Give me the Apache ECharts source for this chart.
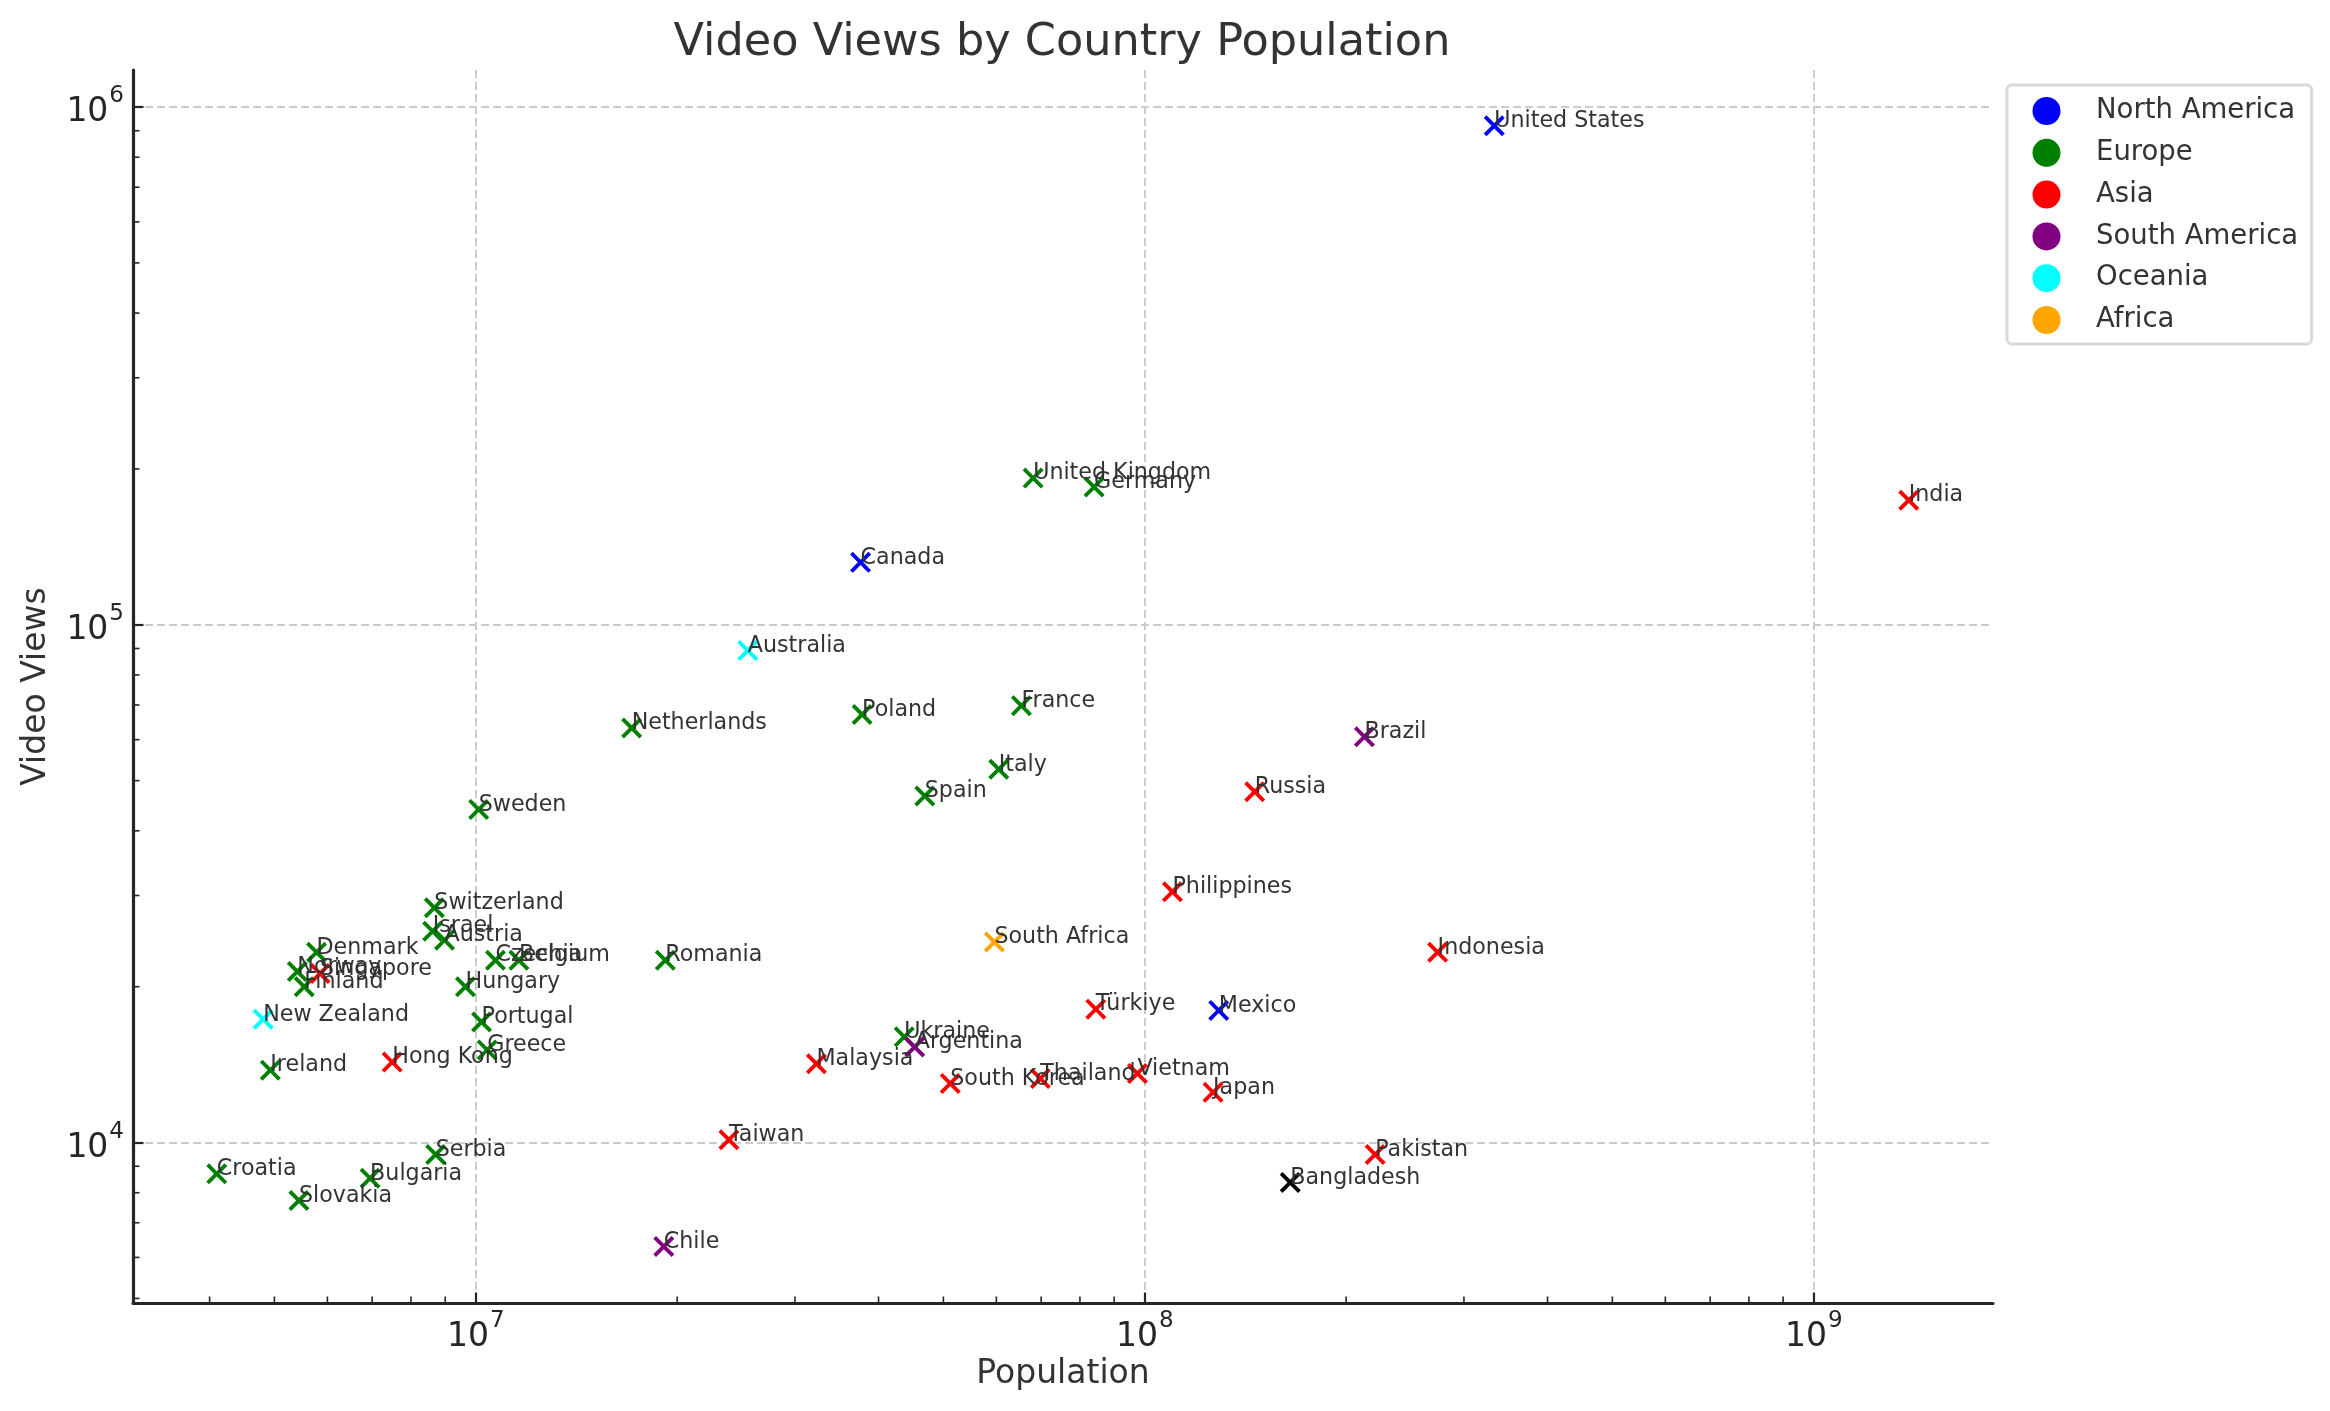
<!DOCTYPE html>
<html><head><meta charset="utf-8"><style>html,body{margin:0;padding:0;background:#fff}#c{width:2330px;height:1411px}</style>
<script src="https://cdn.jsdelivr.net/npm/echarts@6/dist/echarts.min.js"></script></head><body><div id="c"></div>
<script>
const xLimits=[3.073e6,1.8535e9];
const yLimits=[4899,1.179e6];
const xMajorTicks=[1e7,1e8,1e9];
const yMajorTicks=[1e4,1e5,1e6];
const xMinorTicks=[4e6,5e6,6e6,7e6,8e6,9e6,2e7,3e7,4e7,5e7,6e7,7e7,8e7,9e7,2e8,3e8,4e8,5e8,6e8,7e8,8e8,9e8];
const yMinorTicks=[5e3,6e3,7e3,8e3,9e3,2e4,3e4,4e4,5e4,6e4,7e4,8e4,9e4,2e5,3e5,4e5,5e5,6e5,7e5,8e5,9e5];

const northAmericaCountries=['United States','Canada','Mexico'];
const northAmericaPopulation=[3.33e8,3.76e7,1.29e8];
const northAmericaViews=[9.2e5,1.32e5,1.80e4];

const europeCountries=['United Kingdom','Germany','Netherlands','Poland','France','Italy','Spain','Sweden','Switzerland','Israel','Austria','Denmark','Czechia','Belgium','Romania','Norway','Finland','Hungary','Portugal','Ukraine','Greece','Ireland','Serbia','Croatia','Bulgaria','Slovakia'];
const europePopulation=[6.81e7,8.4e7,1.71e7,3.78e7,6.54e7,6.05e7,4.69e7,1.01e7,8.67e6,8.62e6,8.98e6,5.78e6,1.07e7,1.16e7,1.92e7,5.41e6,5.54e6,9.65e6,1.02e7,4.37e7,1.04e7,4.93e6,8.71e6,4.10e6,6.95e6,5.44e6];
const europeViews=[1.92e5,1.845e5,6.32e4,6.71e4,6.98e4,5.26e4,4.67e4,4.4e4,2.84e4,2.56e4,2.46e4,2.33e4,2.25e4,2.25e4,2.25e4,2.14e4,2.0e4,2.0e4,1.71e4,1.60e4,1.51e4,1.38e4,9.48e3,8.7e3,8.53e3,7.73e3];

const asiaCountries=['India','Russia','Philippines','Indonesia','Singapore','Türkiye','Hong Kong','Malaysia','Vietnam','Thailand','South Korea','Japan','Taiwan','Pakistan'];
const asiaPopulation=[1.387e9,1.46e8,1.10e8,2.74e8,5.85e6,8.45e7,7.5e6,3.23e7,9.75e7,6.98e7,5.12e7,1.265e8,2.39e7,2.21e8];
const asiaViews=[1.74e5,4.76e4,3.05e4,2.33e4,2.12e4,1.81e4,1.43e4,1.42e4,1.36e4,1.33e4,1.30e4,1.25e4,1.013e4,9.48e3];

const southAmericaCountries=['Brazil','Argentina','Chile'];
const southAmericaPopulation=[2.13e8,4.53e7,1.91e7];
const southAmericaViews=[6.08e4,1.53e4,6.3e3];

const oceaniaCountries=['Australia','New Zealand'];
const oceaniaPopulation=[2.55e7,4.81e6];
const oceaniaViews=[8.92e4,1.73e4];

const africaCountries=['South Africa'];
const africaPopulation=[5.96e7];
const africaViews=[2.44e4];

const otherCountries=['Bangladesh'];
const otherPopulation=[1.65e8];
const otherViews=[8.37e3];

const regionNames=['North America','Europe','Asia','South America','Oceania','Africa'];
const FONT='"DejaVu Sans"';
const xPath='path://M2.6,0 L10,7.4 L17.4,0 L20,2.6 L12.6,10 L20,17.4 L17.4,20 L10,12.6 L2.6,20 L0,17.4 L7.4,10 L0,2.6 Z';

function pts(n,x,y){return n.map((name,i)=>({name,value:[x[i],y[i]]}));}
function region(name,color,n,x,y,z){return {
  name,type:'scatter',symbol:xPath,symbolSize:21,symbolKeepAspect:true,
  itemStyle:{color,opacity:1},
  label:{show:true,formatter:'{b}',position:[10.5,17],align:'left',verticalAlign:'bottom',
    fontFamily:FONT,fontSize:22.2,color:'#333333'},
  emphasis:{disabled:true},data:pts(n,x,y),z:z||3};}
function minor(data,horizontal){return {
  type:'custom',silent:true,clip:false,z:5,tooltip:{show:false},
  data,renderItem(p,api){
    const c=horizontal?api.coord([api.value(0),yLimits[0]]):api.coord([xLimits[0],api.value(0)]);
    return {type:'line',shape:horizontal?{x1:c[0],y1:c[1],x2:c[0],y2:c[1]-6.5}:{x1:c[0],y1:c[1],x2:c[0]+6.5,y2:c[1]},
      style:{stroke:'#262626',lineWidth:1.6}};
  }};}
function tickLabel(v){const e=Math.round(Math.log10(v));return '{b|10}{s|'+e+'}';}
const rich={b:{fontFamily:FONT,fontSize:33,color:'#262626',lineHeight:44,verticalAlign:'bottom'},
            s:{fontFamily:FONT,fontSize:23,color:'#262626',lineHeight:44,verticalAlign:'top',padding:[0,0,0,1]}};
const grid={show:true,lineStyle:{color:'#cccccc',width:2,type:[8,4]}};
const line={show:true,onZero:false,lineStyle:{color:'#262626',width:3.2}};
const tick={show:true,inside:true,length:10.5,lineStyle:{color:'#262626',width:2.2}};

const chart=echarts.init(document.getElementById('c'),null,{renderer:'canvas',width:2330,height:1411,devicePixelRatio:1});
chart.setOption({
  animation:false,backgroundColor:'#ffffff',
  title:{text:'Video Views by Country Population',left:1057,top:16,textAlign:'center',
    textStyle:{fontFamily:FONT,fontSize:44.6,fontWeight:'normal',color:'#333333'}},
  legend:{orient:'vertical',left:2007,top:85,padding:[12,13.5,10,25.5],itemWidth:61,itemHeight:28,itemGap:13.8,
    data:regionNames.map(name=>({name,icon:'circle'})),
    backgroundColor:'#fff',borderColor:'#d9d9d9',borderWidth:3,borderRadius:5,
    textStyle:{fontFamily:FONT,fontSize:27.5,color:'#333333',padding:[0,0,0,14]}},
  grid:{left:133,right:2330-1993,top:70,bottom:1411-1303,containLabel:false,outerBoundsMode:'none'},
  xAxis:{type:'log',min:xLimits[0],max:xLimits[1],logBase:10,
    name:'Population',nameLocation:'middle',nameGap:55,nameMoveOverlap:false,
    nameTextStyle:{fontFamily:FONT,fontSize:33,color:'#333333'},
    axisLine:line,axisTick:Object.assign({customValues:xMajorTicks},tick),splitLine:grid,minorTick:{show:false},minorSplitLine:{show:false},
    axisLabel:{customValues:xMajorTicks,formatter:tickLabel,rich,margin:7,showMinLabel:true,showMaxLabel:true}},
  yAxis:{type:'log',min:yLimits[0],max:yLimits[1],logBase:10,
    name:'Video Views',nameLocation:'middle',nameGap:80,nameMoveOverlap:false,
    nameTextStyle:{fontFamily:FONT,fontSize:33,color:'#333333'},
    axisLine:line,axisTick:Object.assign({customValues:yMajorTicks},tick),splitLine:grid,minorTick:{show:false},minorSplitLine:{show:false},
    axisLabel:{customValues:yMajorTicks,formatter:tickLabel,rich,margin:9,showMinLabel:true,showMaxLabel:true}},
  series:[
    region('North America','#0000ff',northAmericaCountries,northAmericaPopulation,northAmericaViews),
    region('Europe','#008000',europeCountries,europePopulation,europeViews),
    region('Asia','#ff0000',asiaCountries,asiaPopulation,asiaViews),
    region('South America','#800080',southAmericaCountries,southAmericaPopulation,southAmericaViews),
    region('Oceania','#00ffff',oceaniaCountries,oceaniaPopulation,oceaniaViews),
    region('Africa','#ffa500',africaCountries,africaPopulation,africaViews),
    region('Other','#000000',otherCountries,otherPopulation,otherViews),
    minor(xMinorTicks,true),
    minor(yMinorTicks,false)
  ]
});
</script></body></html>
